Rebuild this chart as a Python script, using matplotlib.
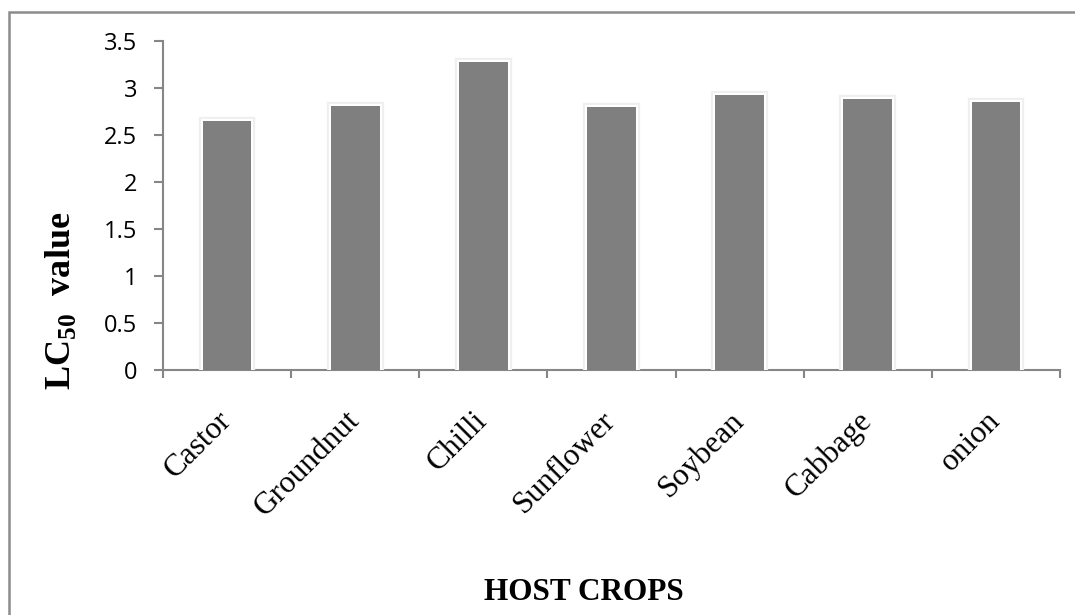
import matplotlib
matplotlib.use('Agg')
import matplotlib.pyplot as plt
import matplotlib.patheffects as pe
from matplotlib.patches import Rectangle
import numpy as np

crops = ['Castor', 'Groundnut', 'Chilli', 'Sunflower', 'Soybean', 'Cabbage', 'onion']
lc50 = [2.65, 2.81, 3.28, 2.80, 2.93, 2.88, 2.85]
yticks = [0, 0.5, 1, 1.5, 2, 2.5, 3, 3.5]

plt.rcParams['mathtext.fontset'] = 'custom'
plt.rcParams['mathtext.rm'] = 'Liberation Serif'
plt.rcParams['mathtext.bf'] = 'Liberation Serif:bold'

axis_col = '#868686'

fig = plt.figure(figsize=(10.75, 6.15), dpi=100)
ax = fig.add_axes([0.1516, 0.3984, 0.986 - 0.1516, 0.9333 - 0.3984])

x = np.arange(len(crops))
bars = ax.bar(x, lc50, width=0.38, color='#7f7f7f', edgecolor='none', zorder=3)
for b in bars:
    b.set_path_effects([pe.Stroke(linewidth=6, foreground='#efefef'),
                        pe.Stroke(linewidth=3.0, foreground='white'),
                        pe.Normal()])

ax.set_xlim(-0.5, len(crops) - 0.5)
ax.set_ylim(0, 3.5)

ax.set_xticks(x)
ax.set_xticks(np.arange(len(crops) + 1) - 0.5, minor=True)
ax.set_yticks(yticks)
ax.tick_params(axis='x', which='major', length=0, pad=33)
ax.tick_params(axis='x', which='minor', length=6, width=1.5, color=axis_col, direction='out')
ax.tick_params(axis='y', length=6.5, width=1.5, color=axis_col, pad=12)

ax.set_yticklabels([('%g' % v) for v in yticks])
ax.set_xticklabels(crops)
for t in ax.get_yticklabels():
    t.set_fontfamily('Open Sans')
    t.set_fontsize(17)
for t in ax.get_xticklabels():
    t.set_fontfamily('Liberation Serif')
    t.set_fontsize(22.5)
    t.set_rotation(45)
    t.set_rotation_mode('anchor')
    t.set_ha('right')
    t.set_va('center')

for s in ['top', 'right']:
    ax.spines[s].set_visible(False)
for s in ['left', 'bottom']:
    ax.spines[s].set_color(axis_col)
    ax.spines[s].set_linewidth(1.5)

fig.text(60 / 1075, 1 - 301 / 615, r'LC$_{\mathbf{50}}$  value', rotation=90,
         ha='center', va='center', fontfamily='Liberation Serif', fontweight='bold', fontsize=26)
fig.text(584 / 1075, 1 - 592 / 615, 'HOST CROPS', ha='center', va='center',
         fontfamily='Liberation Serif', fontweight='bold', fontsize=22.5)

fig.patches.append(Rectangle((8.5 / 1075, -0.1), 1.2, 1 - 12 / 615 + 0.1,
                             transform=fig.transFigure, fill=False,
                             edgecolor='#8c8c8c', linewidth=1.8))

fig.savefig('out.png', dpi=100)
